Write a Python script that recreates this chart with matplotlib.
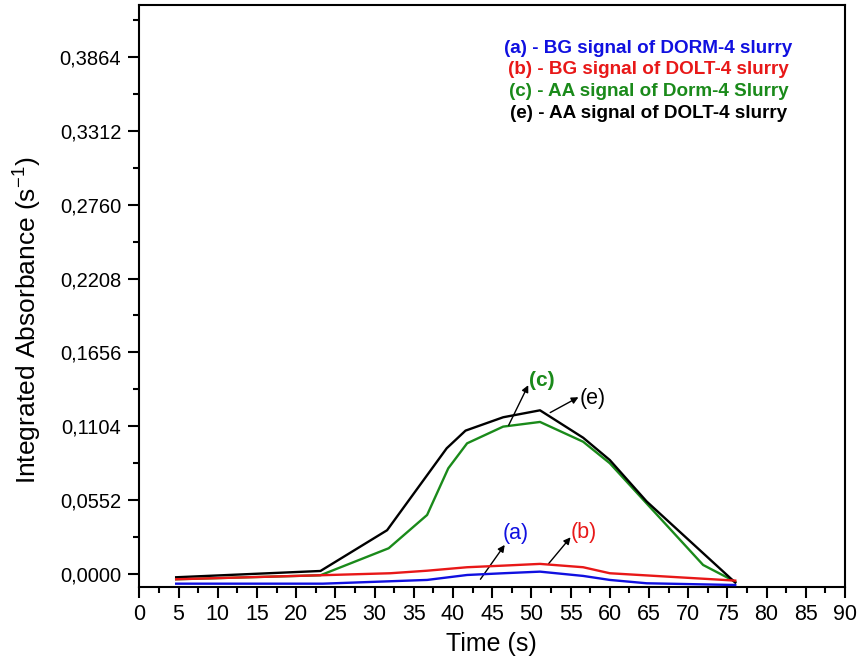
import matplotlib
matplotlib.use('Agg')
import matplotlib.pyplot as plt
from matplotlib import font_manager
import numpy as np

plt.rcParams['font.family'] = ['Liberation Sans', 'DejaVu Sans']
plt.rcParams['mathtext.fontset'] = 'custom'
plt.rcParams['mathtext.rm'] = 'Liberation Sans'
plt.rcParams['mathtext.it'] = 'Liberation Sans:italic'

names = {f.name for f in font_manager.fontManager.ttflist}
narrow = 'Liberation Sans Narrow' if 'Liberation Sans Narrow' in names else 'Liberation Sans'

# curves (time in s, integrated absorbance in s^-1)
time_a = [4.7, 23.4, 36.7, 41.8, 46.4, 51.1, 56.6, 60.0, 64.7, 76.0]
bg_dorm = [-0.0075, -0.0075, -0.0047, -0.0010, 0.0003, 0.0015, -0.0017, -0.0047, -0.0072, -0.0085]

time_b = [4.7, 23.1, 32.0, 36.7, 41.8, 46.4, 51.1, 56.6, 60.0, 76.0]
bg_dolt = [-0.0042, -0.0012, 0.0003, 0.0022, 0.0048, 0.0060, 0.0073, 0.0048, 0.0003, -0.0052]

time_c = [4.7, 23.1, 31.8, 36.7, 39.4, 41.8, 46.4, 51.1, 56.6, 60.0, 64.7, 71.9, 76.0]
aa_dorm = [-0.0042, -0.0012, 0.0190, 0.0439, 0.0788, 0.0975, 0.1100, 0.1135, 0.0987, 0.0826, 0.0525, 0.0065, -0.0060]

time_e = [4.7, 23.1, 31.6, 39.2, 41.6, 46.4, 51.1, 56.6, 60.0, 64.7, 76.0]
aa_dolt = [-0.0027, 0.0020, 0.0325, 0.0938, 0.1070, 0.1170, 0.1222, 0.1017, 0.0850, 0.0540, -0.0067]

legend_lines = ['(a) - BG signal of DORM-4 slurry',
                '(b) - BG signal of DOLT-4 slurry',
                '(c) - AA signal of Dorm-4 Slurry',
                '(e) - AA signal of DOLT-4 slurry']
colors = ['#1010e0', '#e81818', '#1a8a1a', '#000000']

x_ticks = list(range(0, 91, 5))
y_ticks = [0.0, 0.0552, 0.1104, 0.1656, 0.2208, 0.2760, 0.3312, 0.3864]
y_ticklabels = ['0,0000', '0,0552', '0,1104', '0,1656', '0,2208', '0,2760', '0,3312', '0,3864']

fig = plt.figure(figsize=(8.6, 6.63), dpi=100)
ax = fig.add_axes([0.162, 0.1142, 0.8206, 0.878])

ax.plot(time_c, aa_dorm, color=colors[2], lw=1.7, zorder=2)
ax.plot(time_e, aa_dolt, color=colors[3], lw=1.7, zorder=3)
ax.plot(time_b, bg_dolt, color=colors[1], lw=1.7, zorder=4)
ax.plot(time_a, bg_dorm, color=colors[0], lw=1.7, zorder=5)

ax.set_xlim(0, 90)
ax.set_ylim(-0.0102, 0.4253)
ax.set_xticks(x_ticks)
ax.set_xticks(np.arange(2.5, 90, 5), minor=True)
ax.set_yticks(y_ticks)
ax.set_yticklabels(y_ticklabels)
ax.set_yticks([0.0276 + 0.0552 * i for i in range(8)], minor=True)

ax.tick_params(axis='both', which='major', direction='out', length=8, width=1.5,
               labelsize=14.5)
ax.tick_params(axis='both', which='minor', direction='out', length=4.5, width=1.5)
ax.tick_params(axis='x', which='major', pad=4, labelsize=15.5)
ax.tick_params(axis='y', which='major', pad=5)
for lbl in ax.get_xticklabels():
    lbl.set_family([narrow, 'DejaVu Sans'])
for s in ax.spines.values():
    s.set_linewidth(1.5)

fig.text(28 / 860, 1 - 320 / 663, 'Integrated Absorbance (s$^{\\mathregular{-1}}$)',
         rotation=90, ha='center', va='center', fontsize=19)
fig.text(491.7 / 860, 1 - 644 / 663, 'Time (s)', ha='center', va='center', fontsize=18)

# legend as coloured text lines
for i, (txt, c) in enumerate(zip(legend_lines, colors)):
    ax.text(648.5 / 860, 1 - (48.3 + 21.7 * i) / 663, txt, transform=fig.transFigure,
            ha='center', va='center', color=c, fontsize=13.6, fontweight='bold')

# curve labels with arrows
arrow = dict(arrowstyle='-|>', color='k', lw=1.0, mutation_scale=10, shrinkA=0, shrinkB=0)
ax.annotate('', xy=(49.6, 0.141), xytext=(47.1, 0.111), arrowprops=arrow)
ax.text(51.3, 0.1448, '(c)', color=colors[2], fontsize=15, fontweight='bold', ha='center', va='center')
ax.annotate('', xy=(56.0, 0.132), xytext=(52.4, 0.1205), arrowprops=arrow)
ax.text(57.8, 0.1312, '(e)', color='k', fontsize=15.5, ha='center', va='center')
ax.annotate('', xy=(46.6, 0.0215), xytext=(43.5, -0.0042), arrowprops=arrow)
ax.text(48.0, 0.0302, '(a)', color=colors[0], fontsize=15.5, ha='center', va='center')
ax.annotate('', xy=(55.0, 0.0272), xytext=(52.2, 0.0075), arrowprops=arrow)
ax.text(56.7, 0.0307, '(b)', color=colors[1], fontsize=15.5, ha='center', va='center')

fig.savefig('out.png', dpi=100)
